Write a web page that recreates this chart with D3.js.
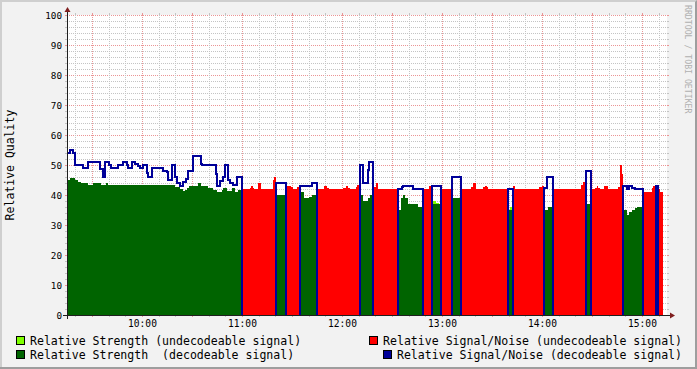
<!DOCTYPE html>
<html>
<head>
<meta charset="utf-8">
<script src="https://cdn.jsdelivr.net/npm/d3@7"></script>
<style>
  body { margin: 0; background: #f2f2f2; }
  svg { display: block; }
  text { font-family: "DejaVu Sans Mono", monospace; }
</style>
</head>
<body>
<svg id="chart" width="697" height="369"></svg>
<script>
// minutes after 09:15, value ; step series (value holds until next point)
var strengthDec = [[0,45],[1.8,45.8],[4.8,45],[6.8,44.4],[8.2,44],[12.8,43.3],[15.8,44],[20.2,43.3],[23.2,44],[24.8,43.3],
  [64.8,42.8],[67.8,42],[69.4,41.3],[70.8,41.7],[72,42.2],[73.4,43],[78.8,44],[80.2,43],[84.8,42.4],[87.8,41.7],
  [89.8,41],[92.8,41.7],[93.8,42.2],[95.8,41.3],[98.8,42.2],[100.8,41],[102.8,41.7],[105.2,0],
  [125.2,40],[131.2,0],
  [139.8,41],[142.2,39],[145.2,39.4],[147.2,40],[150.2,0],
  [175.8,40],[177.8,38],[180.4,39],[182,40],[183.4,0],
  [198.8,35],[200.4,39],[201.8,40],[202.8,39],[204.8,37],[210.8,36],[213.4,0],
  [219.2,37],[224.2,0],
  [231.2,39],[236.2,0],
  [264.4,35],[267.4,0],
  [286.2,35],[288.8,36],[291.4,0],
  [311.2,37],[314.2,0],
  [333.8,35],[336.2,33.5],[337.4,34.3],[338.8,35],[340.8,35.6],[341.8,36],[345.8,0],
  [353.2,35],[354.6,0],[357.6,0]];

var strengthUndec = [[0,0],[219.8,38],[221.4,37.5],[223,0],[265.6,36],[266.8,0],[357.6,0]];

var snrUndec = [[0,0],[105.2,42],[109.8,42.3],[110.4,43],[111.4,42.3],[112.2,42],[114.8,44],[116.2,42],[123.8,45],[124.4,46],[125.2,0],
  [131.2,43],[134.4,42.6],[135.8,42],[137.8,42.6],[139.8,0],
  [150.2,42],[154.2,43],[156.2,42.4],[157.2,42],[165.8,42.5],[167.2,43],[168.4,42.5],[169.8,42],[173.4,42.6],[174.2,43.3],[175.8,0],
  [183.4,42.6],[185.4,44],[186.8,42],[198.8,0],
  [213.4,42],[217.2,43],[219.2,0],
  [224.2,42],[231.2,0],
  [236.2,42],[242.4,42.6],[243.8,44],[245.4,42],[249.8,42.6],[250.8,43],[251.8,42.6],[252.8,42],[264.4,0],
  [267.4,43],[268.8,42],[283.4,42.6],[284.8,43],[286.2,0],
  [291.4,43],[292.4,42],[308.4,43.3],[309.8,44.4],[311.2,0],
  [314.2,42],[316.8,42.5],[317.8,43],[318.8,42.5],[319.8,42],[322.2,43],[324.8,42],[330.8,42.8],[331.8,50],[333.2,47],[333.8,0],
  [345.8,41],[350.8,42.3],[351.8,43],[353.2,0],
  [354.6,42],[355.8,41],[357.6,0]];

var snrDec = [[0,54],[1.8,55],[3.8,54],[5,50],[9.8,49],[12.6,51],[19.8,48.6],[21.4,46],[22.8,51],[25.2,50],
  [26.2,49],[30.8,50],[33.8,51],[35.8,50],[36.8,49],[39.2,51],[40.8,50.3],[42.8,49.7],[43.8,49],[45.8,50],
  [48.2,47.2],[48.8,46],[51.2,49],[57.8,48.1],[59.8,47.6],[60.8,45],[63.2,50],[64.8,46],[66.2,44],[67.8,43],
  [69.8,44.4],[71.4,45.5],[72.8,48],[75.4,51],[75.8,53],[80.2,50.2],[80.8,50],[89.4,47],[90.2,43],[91.8,44.7],
  [93.4,46],[94.8,50],[96.8,45],[97.8,44],[99.8,43.3],[102.2,46],[105.2,0],
  [125.2,44],[131.2,0],
  [139.8,43],[146.8,44],[150.2,0],
  [175.8,50],[177.8,44],[180.4,48.3],[181.2,51],[183.4,0],
  [198.8,42],[200.8,42.6],[201.8,43],[207.8,42],[213.4,0],
  [219.2,43],[224.2,0],
  [231.2,46],[236.2,0],
  [264.4,42],[267.4,0],
  [286.2,42.3],[288.2,46],[291.4,0],
  [311.2,48],[314.2,0],
  [333.8,43],[336.2,42],[337.4,43],[338.8,42.3],[340.8,42],[345.8,0],
  [353.2,43],[354.6,0],[357.6,0]];

var legendItems = [
  {label: "Relative Strength (undecodeable signal)", color: "#7fff00", row: 0, side: "left"},
  {label: "Relative Signal/Noise (undecodeable signal)", color: "#ff0000", row: 0, side: "right"},
  {label: "Relative Strength  (decodeable signal)", color: "#006400", row: 1, side: "left"},
  {label: "Relative Signal/Noise (decodeable signal)", color: "#000099", row: 1, side: "right"}
];
var yTitle = "Relative Quality";
var watermark = "RRDTOOL / TOBI OETIKER";

// plot box
var X0 = 67, X1 = 667, Y0 = 315, Y1 = 15;
var t0 = new Date(2000, 0, 1, 9, 15), t1 = new Date(2000, 0, 1, 15, 15);
var toDate = function(m) { return new Date(t0.getTime() + m * 60000); };

var svg = d3.select("#chart");
var x = d3.scaleTime().domain([t0, t1]).range([X0, X1]);
var y = d3.scaleLinear().domain([0, 100]).range([Y0, Y1]);

// frame + background
svg.append("rect").attr("width", 697).attr("height", 369).attr("fill", "#f2f2f2");
svg.append("path").attr("d", "M0,0H697V2H2V369H0Z").attr("fill", "#cfcfcf");
svg.append("path").attr("d", "M697,0V369H0V367H695V2Z").attr("fill", "#9e9e9e");
svg.append("rect").attr("x", X0).attr("y", Y1).attr("width", X1 - X0).attr("height", Y0 - Y1).attr("fill", "#fff");

var gridMinor = "#c4c4c4", gridMajor = "#eb9595";
var grid = svg.append("g").attr("shape-rendering", "crispEdges");

// horizontal grid
d3.range(0, 101, 2).forEach(function(v) {
  var py = Math.round(y(v)) + 0.5, major = v % 10 === 0;
  var c = major ? gridMajor : gridMinor;
  grid.append("line").attr("x1", X0).attr("x2", X1).attr("y1", py).attr("y2", py)
    .attr("stroke", c).attr("stroke-dasharray", "1,1");
  grid.append("line").attr("x1", X0 - 2).attr("x2", X0).attr("y1", py).attr("y2", py).attr("stroke", c);
  grid.append("line").attr("x1", X1).attr("x2", X1 + 2).attr("y1", py).attr("y2", py).attr("stroke", c);
});
// vertical grid
x.ticks(d3.timeMinute.every(10)).forEach(function(d) {
  var px = Math.round(x(d)) + 0.5, major = d.getMinutes() % 30 === 0;
  var c = major ? gridMajor : gridMinor;
  grid.append("line").attr("x1", px).attr("x2", px).attr("y1", Y1).attr("y2", Y0)
    .attr("stroke", c).attr("stroke-dasharray", "1,1");
  grid.append("line").attr("x1", px).attr("x2", px).attr("y1", Y0).attr("y2", Y0 + 2).attr("stroke", c);
  grid.append("line").attr("x1", px).attr("x2", px).attr("y1", Y1 - 2).attr("y2", Y1).attr("stroke", c);
});

// data
var area = d3.area()
  .x(function(d) { return x(toDate(d[0])); })
  .y0(y(0))
  .y1(function(d) { return y(d[1]); })
  .curve(d3.curveStepAfter);
var line = d3.line()
  .x(function(d) { return x(toDate(d[0])); })
  .y(function(d) { return y(d[1]); })
  .curve(d3.curveStepAfter);

// split the decodeable SNR into runs that drop to zero at their edges
var runs = [], cur = null;
snrDec.forEach(function(d, i) {
  if (d[1] > 0) {
    if (!cur) { cur = i === 0 ? [] : [[d[0], 0]]; runs.push(cur); }
    cur.push(d);
  } else if (cur) {
    cur.push(d);
    cur = null;
  }
});

var plot = svg.append("g").attr("shape-rendering", "crispEdges");
plot.append("path").attr("d", area(strengthUndec)).attr("fill", "#7fff00");
plot.append("path").attr("d", area(strengthDec)).attr("fill", "#006400");
plot.append("path").attr("d", area(snrUndec)).attr("fill", "#ff0000");
plot.selectAll("path.snr").data(runs).join("path").attr("class", "snr")
  .attr("d", line).attr("fill", "none").attr("stroke", "#000099").attr("stroke-width", 2);

// axes
var axisCol = "#1f1f1f", arrowCol = "#7f1f1f";
svg.append("line").attr("x1", X0 - 4).attr("x2", X1 + 4).attr("y1", Y0 + 0.5).attr("y2", Y0 + 0.5)
  .attr("stroke", axisCol).attr("shape-rendering", "crispEdges");
svg.append("line").attr("x1", X0 + 0.5).attr("x2", X0 + 0.5).attr("y1", Y0 + 4).attr("y2", Y1 - 4)
  .attr("stroke", axisCol).attr("shape-rendering", "crispEdges");
svg.append("path").attr("d", "M" + (X1 + 3) + "," + (Y0 - 2.5) + "L" + (X1 + 3) + "," + (Y0 + 3.5) + "L" + (X1 + 8) + "," + (Y0 + 0.5) + "Z")
  .attr("fill", arrowCol);
svg.append("path").attr("d", "M" + (X0 - 2.5) + "," + (Y1 - 3) + "L" + (X0 + 3.5) + "," + (Y1 - 3) + "L" + (X0 + 0.5) + "," + (Y1 - 8) + "Z")
  .attr("fill", arrowCol);

// tick labels
svg.append("g").selectAll("text").data(d3.range(0, 101, 10)).join("text")
  .attr("x", X0 - 5).attr("y", function(d) { return y(d) + 3.5; })
  .attr("text-anchor", "end").attr("font-size", "9.3px").attr("fill", "#000")
  .text(function(d) { return d; });
svg.append("g").selectAll("text").data(x.ticks(d3.timeHour.every(1))).join("text")
  .attr("x", function(d) { return x(d) + 0.5; }).attr("y", Y0 + 12)
  .attr("text-anchor", "middle").attr("font-size", "9.6px").attr("fill", "#000")
  .text(d3.timeFormat("%H:%M"));

svg.append("text").attr("transform", "translate(14," + ((Y0 + Y1) / 2) + ") rotate(-90)")
  .attr("text-anchor", "middle").attr("font-size", "11.5px").attr("fill", "#000").text(yTitle);

svg.append("text").attr("transform", "translate(685,5) rotate(90)")
  .attr("font-size", "8.2px").attr("fill", "#b0b0b0").text(watermark);

// legend
var leg = svg.append("g");
legendItems.forEach(function(it) {
  var baseY = 345 + it.row * 14;
  var t = leg.append("text").attr("y", baseY).attr("font-size", "11.55px").attr("fill", "#000")
    .attr("xml:space", "preserve").style("white-space", "pre").text(it.label);
  var w = t.node().getComputedTextLength();
  var tx = it.side === "left" ? 30 : 682 - w;
  t.attr("x", tx);
  leg.append("rect").attr("x", tx - 13.5).attr("y", baseY - 8.5).attr("width", 8).attr("height", 8)
    .attr("fill", it.color).attr("stroke", "#000").attr("stroke-width", 1).attr("shape-rendering", "crispEdges");
});
</script>
</body>
</html>
